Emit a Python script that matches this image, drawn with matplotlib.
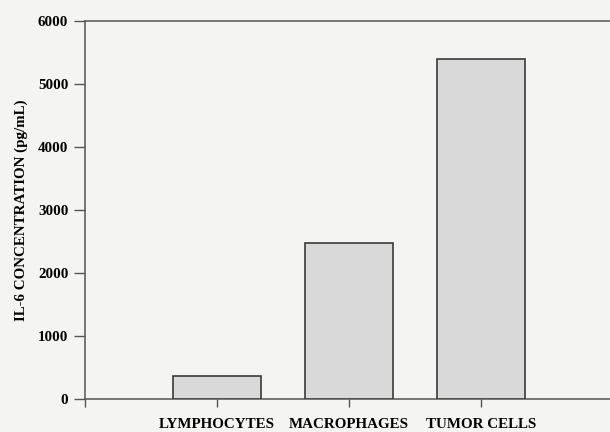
import matplotlib
matplotlib.use("Agg")
import matplotlib.pyplot as plt

categories = ["LYMPHOCYTES", "MACROPHAGES", "TUMOR CELLS"]
values = [370, 2470, 5400]
yticks = [0, 1000, 2000, 3000, 4000, 5000, 6000]

plt.rcParams['font.family'] = ['Liberation Serif', 'DejaVu Serif']

fig = plt.figure(figsize=(6.10, 4.32), dpi=100, facecolor='#f4f4f3')
ax = fig.add_axes([85/610, 33/432, 528/610, 378/432])
ax.set_facecolor('#f4f4f3')

x = list(range(len(categories)))
ax.bar(x, values, width=0.667, color='#d9d9d9', edgecolor='#3a3a3a', linewidth=1.2, zorder=3)

ax.set_xlim(-1, 3)
ax.set_ylim(0, 6000)
ax.set_yticks(yticks)
ax.set_yticklabels([str(v) for v in yticks], fontsize=10.8, fontweight='bold')
ax.set_xticks([-1] + x)
ax.set_xticklabels([''] + categories, fontsize=10.8, fontweight='bold')
ax.tick_params(axis='y', direction='out', length=8, width=1, color='#555555', pad=4)
ax.tick_params(axis='x', direction='out', length=6, width=1, color='#555555', pad=8)
for s in ['left', 'bottom', 'top']:
    ax.spines[s].set_color('#555555')
    ax.spines[s].set_linewidth(1.1)
ax.spines['right'].set_visible(False)

ax.set_ylabel('IL-6 CONCENTRATION (pg/mL)', fontsize=10.8, fontweight='bold', labelpad=7)

fig.savefig('out.png', dpi=100, facecolor=fig.get_facecolor())
